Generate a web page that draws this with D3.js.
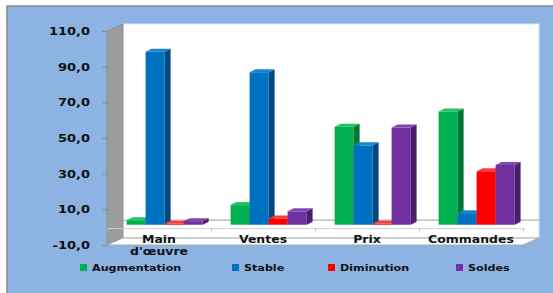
<!DOCTYPE html>
<html>
<head>
<meta charset="utf-8">
<script src="https://cdn.jsdelivr.net/npm/d3@7"></script>
<style>
  html, body { margin: 0; padding: 0; background: #fff; }
  svg { display: block; }
  text { font-family: "DejaVu Sans", Verdana, sans-serif; font-weight: bold; fill: #111; }
</style>
</head>
<body>
<svg id="chart" width="553" height="293"></svg>
<script>
// chart values
const categories = ["Main d'œuvre", "Ventes", "Prix", "Commandes"];
const seriesNames = ["Augmentation", "Stable", "Diminution", "Soldes"];
const augmentation = [2.5, 11, 55, 63.5];
const stable = [97, 85.5, 44.5, 6.5];
const diminution = [0.5, 3.5, 0.5, 30];
const soldes = [2, 7.5, 54.5, 33.5];
const yTicks = [-10, 10, 30, 50, 70, 90, 110];

const seriesValues = [augmentation, stable, diminution, soldes];
const colors = {
  Augmentation: { front: "#00b050", side: "#00773a", top: "#1fc466" },
  Stable:       { front: "#0070c0", side: "#004a80", top: "#1a84d0" },
  Diminution:   { front: "#ff0000", side: "#b80000", top: "#ff3a3a" },
  Soldes:       { front: "#7030a0", side: "#4a1f6c", top: "#8444b4" }
};

// layout
const W = 553, H = 293;
const front = { left: 107, right: 523, top: 31, bottom: 245 };
const depth = { dx: 16, dy: -7 };
const barDepth = { dx: 6, dy: -3 };
const barShift = 0.35;            // bars sit a little behind the front plane
const barGroupWidth = 76;
const stretch = 1.3;              // text in the original is horizontally stretched
const legendX = [80, 232, 328, 456];
const legendY = 264;

const fmt = d3.formatLocale({ decimal: ",", thousands: " ", grouping: [3], currency: ["", " €"], minus: "-" }).format(".1f");

const svg = d3.select("#chart");

// outer chart area
svg.append("rect")
  .attr("x", 7).attr("y", 6)
  .attr("width", W + 10).attr("height", H + 10)
  .attr("fill", "#8db3e2")
  .attr("stroke", "#8a8a8a")
  .attr("stroke-width", 1.5);

const y = d3.scaleLinear().domain([-10, 110]).range([front.bottom, front.top]);
const x = d3.scaleBand().domain(categories).range([front.left, front.right]);
const xEdge = d3.scaleLinear().domain([0, categories.length]).range([front.left, front.right]);
const xs = d3.scaleBand().domain(seriesNames).range([0, barGroupWidth]);

const pts = a => a.map(p => p.join(",")).join(" ");

// walls
const yMin = y.domain()[0], yMax = y.domain()[1];
svg.append("polygon")
  .attr("points", pts([
    [front.left + depth.dx, y(yMax) + depth.dy],
    [front.right + depth.dx, y(yMax) + depth.dy],
    [front.right + depth.dx, y(yMin) + depth.dy],
    [front.left + depth.dx, y(yMin) + depth.dy]
  ]))
  .attr("fill", "#fff")
  .attr("stroke", "#dbe6f4")
  .attr("stroke-width", 1);

svg.append("polygon")
  .attr("points", pts([
    [front.left, y(yMax)],
    [front.left + depth.dx, y(yMax) + depth.dy],
    [front.left + depth.dx, y(yMin) + depth.dy],
    [front.left, y(yMin)]
  ]))
  .attr("fill", "#9c9c9c")
  .attr("stroke", "#8a8a8a")
  .attr("stroke-width", 0.8);

// floor
svg.append("polygon")
  .attr("points", pts([
    [front.left, y(yMin)],
    [front.right, y(yMin)],
    [front.right + depth.dx, y(yMin) + depth.dy],
    [front.left + depth.dx, y(yMin) + depth.dy]
  ]))
  .attr("fill", "#fff")
  .attr("stroke", "#a8a8a8")
  .attr("stroke-width", 1);

// zero line on back wall
svg.append("line")
  .attr("x1", front.left + depth.dx).attr("x2", front.right + depth.dx)
  .attr("y1", y(0) + depth.dy).attr("y2", y(0) + depth.dy)
  .attr("stroke", "#b0b0b0").attr("stroke-width", 1.2);

// category axis at zero
const xAxis = svg.append("g")
  .attr("transform", `translate(0,${y(0) + 1})`)
  .call(d3.axisBottom(xEdge).tickValues(d3.range(categories.length + 1)).tickFormat("").tickSize(3).tickSizeOuter(0));
xAxis.selectAll("path, line").attr("stroke", "#b8b8b8");
xAxis.select(".domain").attr("stroke", "#d0d0d0");

// value axis
const yAxis = svg.append("g")
  .attr("transform", `translate(${front.left},0)`)
  .call(d3.axisLeft(y).tickValues(yTicks).tickFormat(fmt).tickSize(5).tickSizeOuter(0));
yAxis.select(".domain").remove();
yAxis.selectAll("line").attr("stroke", "#8a8a8a");
yAxis.selectAll("text")
  .attr("x", null).attr("dy", null)
  .attr("text-anchor", "end")
  .attr("dominant-baseline", "central")
  .attr("font-size", 10)
  .attr("font-family", null)
  .attr("fill", "#111")
  .attr("transform", `translate(-17,0) scale(${stretch},1)`);

// bars
const bars = [];
categories.forEach((c, i) => {
  seriesNames.forEach((s, j) => {
    bars.push({ cat: c, series: s, value: seriesValues[j][i] });
  });
});

const sx = depth.dx * barShift, sy = depth.dy * barShift;
const groupOffset = (x.bandwidth() - barGroupWidth) / 2;
const bw = xs.bandwidth();

const barG = svg.append("g").selectAll("g").data(bars).join("g");
barG.each(function(d) {
  const g = d3.select(this);
  const xl = x(d.cat) + groupOffset + xs(d.series) + sx;
  const xr = xl + bw;
  const yt = y(d.value) + sy;
  const yb = y(0) + sy;
  const col = colors[d.series];
  g.append("rect")
    .attr("x", xl).attr("y", yt)
    .attr("width", bw).attr("height", yb - yt)
    .attr("fill", col.front);
  g.append("polygon")
    .attr("points", pts([[xr, yt], [xr + barDepth.dx, yt + barDepth.dy], [xr + barDepth.dx, yb + barDepth.dy], [xr, yb]]))
    .attr("fill", col.side);
  g.append("polygon")
    .attr("points", pts([[xl, yt], [xl + barDepth.dx, yt + barDepth.dy], [xr + barDepth.dx, yt + barDepth.dy], [xr, yt]]))
    .attr("fill", col.top);
});

// category labels
svg.append("g").selectAll("text").data(categories).join("text")
  .attr("transform", d => `translate(${x(d) + x.bandwidth() / 2},${front.bottom - 2}) scale(1.25,1)`)
  .attr("text-anchor", "middle")
  .attr("font-size", 10)
  .each(function(d) {
    const words = d.split(" ");
    d3.select(this).selectAll("tspan").data(words).join("tspan")
      .attr("x", 0)
      .attr("dy", (w, k) => k === 0 ? 0 : 12)
      .text(w => w);
  });

// legend
const legend = svg.append("g").selectAll("g").data(seriesNames).join("g")
  .attr("transform", (d, i) => `translate(${legendX[i]},${legendY})`);
legend.append("rect")
  .attr("width", 7).attr("height", 7)
  .attr("fill", d => colors[d].front);
legend.append("text")
  .attr("transform", `translate(12,7) scale(1.24,1)`)
  .attr("font-size", 9)
  .text(d => d);
</script>
</body>
</html>
